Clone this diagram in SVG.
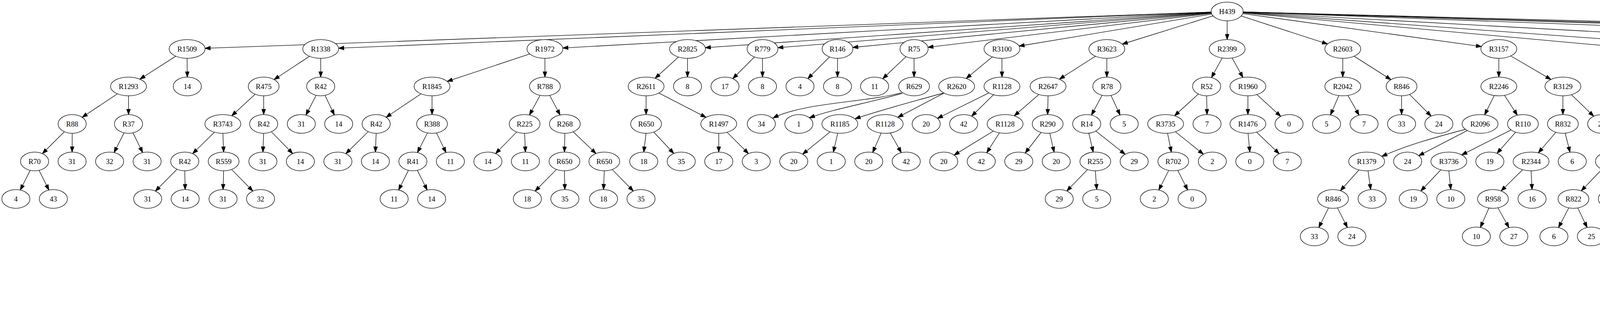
<svg xmlns="http://www.w3.org/2000/svg" width="6919" height="827" viewBox="0 0 6919 827">
<style>
.node ellipse{fill:#ffffff;stroke:#000000;stroke-width:1.33}
.node text{font-family:"Liberation Serif","Times New Roman",serif;font-size:18.67px;text-anchor:middle;fill:#000000}
#edges path{fill:none;stroke:#000000;stroke-width:1.33;marker-end:url(#arr)}
</style>
<defs>
<marker id="arr" markerUnits="userSpaceOnUse" viewBox="0 0 13.33 9.33" refX="13.33" refY="4.67" markerWidth="13.33" markerHeight="9.33" orient="auto" style="overflow:visible">
<path d="M0,0 L13.33,4.67 L0,9.33 z" fill="#000000" stroke="#000000" stroke-width="1.33"/>
</marker>
</defs>
<rect x="0" y="0" width="6919" height="827" fill="#ffffff"/>
<g id="edges">
<path d="M3100.6,30.8L524.9,123.7"/>
<path d="M3100.6,31L866.9,123.4"/>
<path d="M3100.7,31.5L1440.7,122.8"/>
<path d="M3100.8,32.1L1805.6,122.1"/>
<path d="M3100.9,32.6L1991.2,122.1"/>
<path d="M3101,33.2L2183,121.5"/>
<path d="M3101.3,34.1L2375.4,121.1"/>
<path d="M3102.1,35.9L2608.8,118"/>
<path d="M3105.3,40.6L2873,113"/>
<path d="M3141.5,53.3L3141.5,101.3"/>
<path d="M3177.4,40.9L3398.4,112.6"/>
<path d="M3181.4,34.8L3792.5,119.2"/>
<path d="M3182,33L4155.7,121.2"/>
<path d="M3182.2,32.3L4410.4,122"/>
<path d="M3182.3,31.5L4844.9,122.8"/>
<path d="M3182.4,30.8L5676.9,123.6"/>
<path d="M3182.4,30.6L6138.1,123.9"/>
<path d="M3182.5,30.5L6383.4,124"/>
<path d="M3182.5,30.4L6725.8,124.1"/>
<path d="M449.9,143.9L358.1,202.7"/>
<path d="M479,149.3L479.5,197.3"/>
<path d="M300.6,240.2L210.3,300.3"/>
<path d="M329,245.3L329,293.3"/>
<path d="M164.8,337.3L108.6,393.3"/>
<path d="M184.8,341.3L184.6,389.3"/>
<path d="M77.2,436.1L52,486.5"/>
<path d="M100,436.1L125.2,486.5"/>
<path d="M317.6,340.1L292,390.5"/>
<path d="M340.4,340.1L365.2,390.5"/>
<path d="M792.4,144.1L701.8,203.7"/>
<path d="M821,149.3L821,197.3"/>
<path d="M653.2,241.3L593.2,296.4"/>
<path d="M675,245.3L675,293.3"/>
<path d="M549,338.5L493.2,393.4"/>
<path d="M570.6,341.3L572.5,389.3"/>
<path d="M453.2,433.3L397.8,489.3"/>
<path d="M473,437.3L474,485.3"/>
<path d="M572.5,437.3L571,485.3"/>
<path d="M592.8,433.9L647.3,489.2"/>
<path d="M675,341.3L673,389.3"/>
<path d="M694.7,337.4L749.3,393.2"/>
<path d="M809.3,244L783.1,294.6"/>
<path d="M832,244.2L856,294.4"/>
<path d="M1356.2,138.2L1144.8,208.4"/>
<path d="M1395,149.3L1395,197.3"/>
<path d="M1077.8,240.3L988.4,300.3"/>
<path d="M1106,245.3L1106,293.3"/>
<path d="M942.7,337.1L885.3,393.5"/>
<path d="M963,341.3L961,389.3"/>
<path d="M1094.3,340.2L1068.6,390.6"/>
<path d="M1117.3,340.3L1141.8,390.5"/>
<path d="M1045.6,436.1L1020.4,486.5"/>
<path d="M1068.4,436.1L1093.6,486.5"/>
<path d="M1382.7,244.1L1355.4,294.5"/>
<path d="M1407.1,244.1L1433.9,294.5"/>
<path d="M1322.8,337.9L1268.7,393.2"/>
<path d="M1343,341.3L1345,389.3"/>
<path d="M1446,341.3L1445,389.3"/>
<path d="M1467.3,337.5L1525.7,393.1"/>
<path d="M1424.6,433.9L1369.8,489.3"/>
<path d="M1445,437.3L1446,485.3"/>
<path d="M1547,437.3L1545,485.3"/>
<path d="M1567.2,433.9L1621.3,489.2"/>
<path d="M1737,146.1L1677,200.5"/>
<path d="M1760,149.3L1760,197.3"/>
<path d="M1654,245.3L1654,293.3"/>
<path d="M1686.7,238.2L1807.3,300.4"/>
<path d="M1653.8,341.3L1648.1,389.3"/>
<path d="M1673.6,338.2L1724.9,393"/>
<path d="M1840,341.3L1840,389.3"/>
<path d="M1861.3,338.6L1916,393.3"/>
<path d="M1931.5,145.8L1876,201.3"/>
<path d="M1952,149.3L1952,197.3"/>
<path d="M2123.5,145.8L2068,201.3"/>
<path d="M2144,149.3L2144,197.3"/>
<path d="M2319.3,145L2259.7,201.7"/>
<path d="M2340,149.3L2340,197.3"/>
<path d="M2307.6,237.3C2220,262 2060,262 1979,302"/>
<path d="M2310,239C2230,262 2130,280 2072,301.7"/>
<path d="M2540.5,145.6L2473.5,201"/>
<path d="M2565,149.3L2565,197.3"/>
<path d="M2416,238C2330,262 2260,280 2189,304"/>
<path d="M2416.6,238.3L2298.4,300.3"/>
<path d="M2125.2,337.5L2054.8,394.7"/>
<path d="M2144.5,341.1L2133.4,389.6"/>
<path d="M2255.8,340.7L2234.1,390.3"/>
<path d="M2279,340.3L2307.4,390.8"/>
<path d="M2531.6,237.8L2399.9,303"/>
<path d="M2543.4,242.5L2487.3,297.5"/>
<path d="M2804.4,143.9L2712.1,202.7"/>
<path d="M2833.5,149.3L2833.5,197.3"/>
<path d="M2659.4,241.9L2596.6,296.7"/>
<path d="M2683,245.3L2682,293.3"/>
<path d="M2543.1,335.6L2442.5,397.1"/>
<path d="M2558.5,340.1L2526,391.2"/>
<path d="M2665.2,339L2624.5,392"/>
<path d="M2687.4,341.1L2698.6,389.6"/>
<path d="M2821.4,243.9L2794.1,294.7"/>
<path d="M2844.1,244.2L2867.4,294.4"/>
<path d="M2787.4,341L2798.6,389.5"/>
<path d="M2805.2,335.6L2880.3,395"/>
<path d="M2784.1,434L2731,489.1"/>
<path d="M2804,437.3L2807.6,485.3"/>
<path d="M3128.9,148.4L3101.3,198.8"/>
<path d="M3154.3,148.4L3181.8,198.2"/>
<path d="M3067.8,240.7L3006.8,296.5"/>
<path d="M3089,245.3L3090,293.3"/>
<path d="M2988.9,341.2L2998.7,389.5"/>
<path d="M3009.1,337.4L3080.6,394.8"/>
<path d="M2992,436.2L2966.5,486.5"/>
<path d="M3015.1,436.2L3040.4,486.5"/>
<path d="M3194.6,245.3L3194.6,293.3"/>
<path d="M3217.5,242.1L3278.7,297.9"/>
<path d="M3195,341.3L3199.5,389.3"/>
<path d="M3216.7,338.3L3274.8,393.7"/>
<path d="M3437.5,149.3L3437.5,197.3"/>
<path d="M3466.6,143.9L3560.8,203.9"/>
<path d="M3427.4,244.7L3406,294.2"/>
<path d="M3450.6,244.3L3479.3,294.9"/>
<path d="M3588,245.3L3588,293.3"/>
<path d="M3608.5,241.9L3663.7,297.2"/>
<path d="M3837,149.3L3837,197.3"/>
<path d="M3867.6,143.2L3970.4,203.4"/>
<path d="M3825.4,244.5L3800.6,294.1"/>
<path d="M3851.6,244.1L3884.3,294.9"/>
<path d="M3752,331C3680,350 3600,372 3537.5,400.5"/>
<path d="M3756.4,334.2L3632,398.6"/>
<path d="M3479.1,435L3431.4,488.2"/>
<path d="M3502.1,437.2L3509,485.4"/>
<path d="M3401.1,532.2L3376.1,582.5"/>
<path d="M3424,532.2L3449.3,582.5"/>
<path d="M3868.4,332.7L3742,396.6"/>
<path d="M3880,338.5L3832.3,392.6"/>
<path d="M3688.6,434.8L3637.2,489"/>
<path d="M3709,437.3L3714,485.3"/>
<path d="M4001,245.3L4001,293.3"/>
<path d="M4022.9,242.4L4079.9,297.6"/>
<path d="M3982.9,338.6L3938.2,391.4"/>
<path d="M4006.9,341L4019.1,389.6"/>
<path d="M3898,434.5L3842.8,488.9"/>
<path d="M3919.6,437.3L3922,485.3"/>
<path d="M3811.7,532.5L3789.7,582.3"/>
<path d="M3834.6,532L3862.9,582.8"/>
<path d="M4201,149.3L4201,197.3"/>
<path d="M4223.8,146.1L4284.8,201.9"/>
<path d="M4201,245.3L4201,293.3"/>
<path d="M4223,242.4L4280.5,297.6"/>
<path d="M4183.1,338.7L4138.1,392.4"/>
<path d="M4204.9,341.1L4213.1,389.5"/>
<path d="M4101,433.5L4048,488.6"/>
<path d="M4122.3,437.2L4125.9,485.4"/>
<path d="M4016.1,532.2L3989.8,582.6"/>
<path d="M4039,532.3L4063,582.4"/>
<path d="M4456,149.3L4456,197.3"/>
<path d="M4486.3,143.4L4586.7,203.2"/>
<path d="M4444.1,244.5L4418.6,294.1"/>
<path d="M4469.3,244.3L4498.6,294.9"/>
<path d="M4386.6,338.9L4336.8,392.4"/>
<path d="M4409.2,341.2L4414.4,389.4"/>
<path d="M4297.5,434L4244.4,489.1"/>
<path d="M4317.4,437.3L4321,485.3"/>
<path d="M4617,245.3L4617,293.3"/>
<path d="M4639.8,242.1L4700.8,297.9"/>
<path d="M4595,338.4L4538.1,393"/>
<path d="M4617,341.3L4617,389.3"/>
<path d="M4497.6,434.2L4446.7,488.9"/>
<path d="M4517.7,437.3L4522.3,485.3"/>
<path d="M4890.6,149.3L4890.6,197.3"/>
<path d="M4930.3,137.5L5163.9,209.1"/>
<path d="M4878,244.4L4850.7,294.7"/>
<path d="M4903.4,244.4L4931,294.2"/>
<path d="M4815.8,336L4746.6,393"/>
<path d="M4838.4,341.3L4838.4,389.3"/>
<path d="M4701.7,434.9L4650.8,489"/>
<path d="M4722.2,437.3L4726.8,485.3"/>
<path d="M4838.1,437.3L4832.9,485.3"/>
<path d="M4858.7,434.9L4909.5,489"/>
<path d="M4943.75,341.3L4943.75,389.3"/>
<path d="M4964.9,338.6L5019.4,393.3"/>
<path d="M5203.6,245.3L5203.6,293.3"/>
<path d="M5234,239.3L5335.6,299.3"/>
<path d="M5190,339.5L5159,390.4"/>
<path d="M5216.9,339.5L5247.3,390.4"/>
<path d="M5124.7,434.9L5073.6,489"/>
<path d="M5145,437.3L5150,485.3"/>
<path d="M5260.7,437.3L5255.7,485.3"/>
<path d="M5281.3,434.9L5332.2,489"/>
<path d="M5366,341.3L5366,389.3"/>
<path d="M5387.3,338.6L5442,393.3"/>
<path d="M5722.8,149.3L5722.8,197.3"/>
<path d="M5759.6,139.7L5931.9,206.9"/>
<path d="M5709.9,244.4L5681.9,294.2"/>
<path d="M5735.1,244.4L5761.9,294.7"/>
<path d="M5646.9,338.3L5590.1,392.3"/>
<path d="M5669.2,341.3L5672.6,389.3"/>
<path d="M5556.1,436.5L5530.4,486.6"/>
<path d="M5579.4,436.5L5603.9,486.6"/>
<path d="M5773.7,341.3L5769,389.3"/>
<path d="M5793.2,337.6L5845.5,393"/>
<path d="M5968.75,245.3L5968.75,293.3"/>
<path d="M5992.2,242L6054.3,296.7"/>
<path d="M5968.8,341.3L5970,389.3"/>
<path d="M5991.4,337L6056.8,393.7"/>
<path d="M5947.8,434.3L5891,488.3"/>
<path d="M5970.2,437.3L5973.8,485.3"/>
<path d="M5857.2,532.5L5832.3,582.5"/>
<path d="M5880.4,532.5L5905.6,582.5"/>
<path d="M6079.4,437.3L6076.9,485.3"/>
<path d="M6099.6,434L6153.2,489.2"/>
<path d="M6099.8,338.3L6157.9,393.7"/>
<path d="M6111.4,333.6L6246.6,399.2"/>
<path d="M6184,149.3L6184,197.3"/>
<path d="M6206.6,146.2L6266.9,201.8"/>
<path d="M6184,245.3L6184,293.3"/>
<path d="M6205.1,242.6L6259.2,297.3"/>
<path d="M6429.3,149.3L6429,197.3"/>
<path d="M6457.5,144.3L6545.3,203.5"/>
<path d="M6416.2,244L6387.6,294.8"/>
<path d="M6439.1,244.5L6460.9,294.3"/>
<path d="M6375,341.3L6374,389.3"/>
<path d="M6394.8,337.3L6450.2,393.3"/>
<path d="M6571.7,245.3L6571.7,293.3"/>
<path d="M6592.7,241.6L6650.6,297.5"/>
<path d="M6571.7,341.3L6571.7,389.3"/>
<path d="M6592.7,337.6L6650.6,393.5"/>
<path d="M6551.2,433.8L6495.9,489.3"/>
<path d="M6571.7,437.3L6571.7,485.3"/>
<path d="M6771.7,149.3L6771.7,197.3"/>
<path d="M6794.6,146.1L6855.7,201.9"/>
<path d="M6771.7,245.3L6771.7,293.3"/>
<path d="M6793.5,242.4L6850.6,297.5"/>
<path d="M6771.7,341.3L6771.7,389.3"/>
<path d="M6792.7,337.6L6850.6,393.5"/>
<path d="M6759.6,436.1L6732.9,486.5"/>
<path d="M6783.4,436.2L6809.2,486.6"/>
<path d="M6708.7,532.1L6682,582.5"/>
<path d="M6732.5,532.2L6758.4,582.6"/>
<path d="M6658,628.2L6631.8,678.5"/>
<path d="M6681.7,628.2L6707.8,678.6"/>
<path d="M6608.4,724.3L6583.1,774.5"/>
<path d="M6631.3,724.3L6656.3,774.5"/>
</g>
<g id="n0" class="node"><ellipse cx="3141.5" cy="29.3" rx="41" ry="24"/><text x="3141.5" y="35.6">H439</text></g>
<g id="n1" class="node"><ellipse cx="479" cy="125.3" rx="46" ry="24"/><text x="479" y="131.6">R1509</text></g>
<g id="n2" class="node"><ellipse cx="329" cy="221.3" rx="46" ry="24"/><text x="329" y="227.6">R1293</text></g>
<g id="n3" class="node"><ellipse cx="479.5" cy="221.3" rx="36" ry="24"/><text x="479.5" y="227.6">14</text></g>
<g id="n4" class="node"><ellipse cx="184.8" cy="317.3" rx="36" ry="24"/><text x="184.8" y="323.6">R88</text></g>
<g id="n5" class="node"><ellipse cx="329" cy="317.3" rx="36" ry="24"/><text x="329" y="323.6">R37</text></g>
<g id="n6" class="node"><ellipse cx="88.6" cy="413.3" rx="36" ry="24"/><text x="88.6" y="419.6">R70</text></g>
<g id="n7" class="node"><ellipse cx="184.6" cy="413.3" rx="36" ry="24"/><text x="184.6" y="419.6">31</text></g>
<g id="n8" class="node"><ellipse cx="280.6" cy="413.3" rx="36" ry="24"/><text x="280.6" y="419.6">32</text></g>
<g id="n9" class="node"><ellipse cx="376.6" cy="413.3" rx="36" ry="24"/><text x="376.6" y="419.6">31</text></g>
<g id="n10" class="node"><ellipse cx="40.6" cy="509.3" rx="36" ry="24"/><text x="40.6" y="515.6">4</text></g>
<g id="n11" class="node"><ellipse cx="136.6" cy="509.3" rx="36" ry="24"/><text x="136.6" y="515.6">43</text></g>
<g id="n12" class="node"><ellipse cx="821" cy="125.3" rx="46" ry="24"/><text x="821" y="131.6">R1338</text></g>
<g id="n13" class="node"><ellipse cx="675" cy="221.3" rx="39.5" ry="24"/><text x="675" y="227.6">R475</text></g>
<g id="n14" class="node"><ellipse cx="821" cy="221.3" rx="36" ry="24"/><text x="821" y="227.6">R42</text></g>
<g id="n15" class="node"><ellipse cx="570.5" cy="317.3" rx="46" ry="24"/><text x="570.5" y="323.6">R3743</text></g>
<g id="n16" class="node"><ellipse cx="675" cy="317.3" rx="36" ry="24"/><text x="675" y="323.6">R42</text></g>
<g id="n17" class="node"><ellipse cx="771.4" cy="317.3" rx="36" ry="24"/><text x="771.4" y="323.6">31</text></g>
<g id="n18" class="node"><ellipse cx="867" cy="317.3" rx="36" ry="24"/><text x="867" y="323.6">14</text></g>
<g id="n19" class="node"><ellipse cx="473" cy="413.3" rx="36" ry="24"/><text x="473" y="419.6">R42</text></g>
<g id="n20" class="node"><ellipse cx="572.5" cy="413.3" rx="39.5" ry="24"/><text x="572.5" y="419.6">R559</text></g>
<g id="n21" class="node"><ellipse cx="673" cy="413.3" rx="36" ry="24"/><text x="673" y="419.6">31</text></g>
<g id="n22" class="node"><ellipse cx="769" cy="413.3" rx="36" ry="24"/><text x="769" y="419.6">14</text></g>
<g id="n23" class="node"><ellipse cx="378" cy="509.3" rx="36" ry="24"/><text x="378" y="515.6">31</text></g>
<g id="n24" class="node"><ellipse cx="474" cy="509.3" rx="36" ry="24"/><text x="474" y="515.6">14</text></g>
<g id="n25" class="node"><ellipse cx="571" cy="509.3" rx="36" ry="24"/><text x="571" y="515.6">31</text></g>
<g id="n26" class="node"><ellipse cx="667" cy="509.3" rx="36" ry="24"/><text x="667" y="515.6">32</text></g>
<g id="n27" class="node"><ellipse cx="1395" cy="125.3" rx="46" ry="24"/><text x="1395" y="131.6">R1972</text></g>
<g id="n28" class="node"><ellipse cx="1106" cy="221.3" rx="46" ry="24"/><text x="1106" y="227.6">R1845</text></g>
<g id="n29" class="node"><ellipse cx="1395" cy="221.3" rx="39.5" ry="24"/><text x="1395" y="227.6">R788</text></g>
<g id="n30" class="node"><ellipse cx="963" cy="317.3" rx="36" ry="24"/><text x="963" y="323.6">R42</text></g>
<g id="n31" class="node"><ellipse cx="1106" cy="317.3" rx="39.5" ry="24"/><text x="1106" y="323.6">R388</text></g>
<g id="n32" class="node"><ellipse cx="1343" cy="317.3" rx="39.5" ry="24"/><text x="1343" y="323.6">R225</text></g>
<g id="n33" class="node"><ellipse cx="1446" cy="317.3" rx="39.5" ry="24"/><text x="1446" y="323.6">R268</text></g>
<g id="n34" class="node"><ellipse cx="865" cy="413.3" rx="36" ry="24"/><text x="865" y="419.6">31</text></g>
<g id="n35" class="node"><ellipse cx="961" cy="413.3" rx="36" ry="24"/><text x="961" y="419.6">14</text></g>
<g id="n36" class="node"><ellipse cx="1057" cy="413.3" rx="36" ry="24"/><text x="1057" y="419.6">R41</text></g>
<g id="n37" class="node"><ellipse cx="1153" cy="413.3" rx="36" ry="24"/><text x="1153" y="419.6">11</text></g>
<g id="n38" class="node"><ellipse cx="1249" cy="413.3" rx="36" ry="24"/><text x="1249" y="419.6">14</text></g>
<g id="n39" class="node"><ellipse cx="1345" cy="413.3" rx="36" ry="24"/><text x="1345" y="419.6">11</text></g>
<g id="n40" class="node"><ellipse cx="1445" cy="413.3" rx="39.5" ry="24"/><text x="1445" y="419.6">R650</text></g>
<g id="n41" class="node"><ellipse cx="1547" cy="413.3" rx="39.5" ry="24"/><text x="1547" y="419.6">R650</text></g>
<g id="n42" class="node"><ellipse cx="1009" cy="509.3" rx="36" ry="24"/><text x="1009" y="515.6">11</text></g>
<g id="n43" class="node"><ellipse cx="1105" cy="509.3" rx="36" ry="24"/><text x="1105" y="515.6">14</text></g>
<g id="n44" class="node"><ellipse cx="1350" cy="509.3" rx="36" ry="24"/><text x="1350" y="515.6">18</text></g>
<g id="n45" class="node"><ellipse cx="1446" cy="509.3" rx="36" ry="24"/><text x="1446" y="515.6">35</text></g>
<g id="n46" class="node"><ellipse cx="1545" cy="509.3" rx="36" ry="24"/><text x="1545" y="515.6">18</text></g>
<g id="n47" class="node"><ellipse cx="1641" cy="509.3" rx="36" ry="24"/><text x="1641" y="515.6">35</text></g>
<g id="n48" class="node"><ellipse cx="1760" cy="125.3" rx="46" ry="24"/><text x="1760" y="131.6">R2825</text></g>
<g id="n49" class="node"><ellipse cx="1654" cy="221.3" rx="46" ry="24"/><text x="1654" y="227.6">R2611</text></g>
<g id="n50" class="node"><ellipse cx="1760" cy="221.3" rx="36" ry="24"/><text x="1760" y="227.6">8</text></g>
<g id="n51" class="node"><ellipse cx="1654" cy="317.3" rx="39.5" ry="24"/><text x="1654" y="323.6">R650</text></g>
<g id="n52" class="node"><ellipse cx="1840" cy="317.3" rx="46" ry="24"/><text x="1840" y="323.6">R1497</text></g>
<g id="n53" class="node"><ellipse cx="1648" cy="413.3" rx="36" ry="24"/><text x="1648" y="419.6">18</text></g>
<g id="n54" class="node"><ellipse cx="1744" cy="413.3" rx="36" ry="24"/><text x="1744" y="419.6">35</text></g>
<g id="n55" class="node"><ellipse cx="1840" cy="413.3" rx="36" ry="24"/><text x="1840" y="419.6">17</text></g>
<g id="n56" class="node"><ellipse cx="1936" cy="413.3" rx="36" ry="24"/><text x="1936" y="419.6">3</text></g>
<g id="n57" class="node"><ellipse cx="1952" cy="125.3" rx="39.5" ry="24"/><text x="1952" y="131.6">R779</text></g>
<g id="n58" class="node"><ellipse cx="1856" cy="221.3" rx="36" ry="24"/><text x="1856" y="227.6">17</text></g>
<g id="n59" class="node"><ellipse cx="1952" cy="221.3" rx="36" ry="24"/><text x="1952" y="227.6">8</text></g>
<g id="n60" class="node"><ellipse cx="2144" cy="125.3" rx="39.5" ry="24"/><text x="2144" y="131.6">R146</text></g>
<g id="n61" class="node"><ellipse cx="2048" cy="221.3" rx="36" ry="24"/><text x="2048" y="227.6">4</text></g>
<g id="n62" class="node"><ellipse cx="2144" cy="221.3" rx="36" ry="24"/><text x="2144" y="227.6">8</text></g>
<g id="n63" class="node"><ellipse cx="2340" cy="125.3" rx="36" ry="24"/><text x="2340" y="131.6">R75</text></g>
<g id="n64" class="node"><ellipse cx="2239" cy="221.3" rx="36" ry="24"/><text x="2239" y="227.6">11</text></g>
<g id="n65" class="node"><ellipse cx="2340" cy="221.3" rx="39.5" ry="24"/><text x="2340" y="227.6">R629</text></g>
<g id="n66" class="node"><ellipse cx="1949" cy="317.3" rx="36" ry="24"/><text x="1949" y="323.6">34</text></g>
<g id="n67" class="node"><ellipse cx="2045" cy="317.3" rx="36" ry="24"/><text x="2045" y="323.6">1</text></g>
<g id="n68" class="node"><ellipse cx="2565" cy="125.3" rx="46" ry="24"/><text x="2565" y="131.6">R3100</text></g>
<g id="n69" class="node"><ellipse cx="2449" cy="221.3" rx="46" ry="24"/><text x="2449" y="227.6">R2620</text></g>
<g id="n70" class="node"><ellipse cx="2565" cy="221.3" rx="46" ry="24"/><text x="2565" y="227.6">R1128</text></g>
<g id="n71" class="node"><ellipse cx="2150" cy="317.3" rx="46" ry="24"/><text x="2150" y="323.6">R1185</text></g>
<g id="n72" class="node"><ellipse cx="2266" cy="317.3" rx="46" ry="24"/><text x="2266" y="323.6">R1128</text></g>
<g id="n73" class="node"><ellipse cx="2371" cy="317.3" rx="36" ry="24"/><text x="2371" y="323.6">20</text></g>
<g id="n74" class="node"><ellipse cx="2467" cy="317.3" rx="36" ry="24"/><text x="2467" y="323.6">42</text></g>
<g id="n75" class="node"><ellipse cx="2032" cy="413.3" rx="36" ry="24"/><text x="2032" y="419.6">20</text></g>
<g id="n76" class="node"><ellipse cx="2128" cy="413.3" rx="36" ry="24"/><text x="2128" y="419.6">1</text></g>
<g id="n77" class="node"><ellipse cx="2224" cy="413.3" rx="36" ry="24"/><text x="2224" y="419.6">20</text></g>
<g id="n78" class="node"><ellipse cx="2320" cy="413.3" rx="36" ry="24"/><text x="2320" y="419.6">42</text></g>
<g id="n79" class="node"><ellipse cx="2833.5" cy="125.3" rx="46" ry="24"/><text x="2833.5" y="131.6">R3623</text></g>
<g id="n80" class="node"><ellipse cx="2683" cy="221.3" rx="46" ry="24"/><text x="2683" y="227.6">R2647</text></g>
<g id="n81" class="node"><ellipse cx="2833.5" cy="221.3" rx="36" ry="24"/><text x="2833.5" y="227.6">R78</text></g>
<g id="n82" class="node"><ellipse cx="2573" cy="317.3" rx="46" ry="24"/><text x="2573" y="323.6">R1128</text></g>
<g id="n83" class="node"><ellipse cx="2682" cy="317.3" rx="39.5" ry="24"/><text x="2682" y="323.6">R290</text></g>
<g id="n84" class="node"><ellipse cx="2782" cy="317.3" rx="36" ry="24"/><text x="2782" y="323.6">R14</text></g>
<g id="n85" class="node"><ellipse cx="2878" cy="317.3" rx="36" ry="24"/><text x="2878" y="323.6">5</text></g>
<g id="n86" class="node"><ellipse cx="2416" cy="413.3" rx="36" ry="24"/><text x="2416" y="419.6">20</text></g>
<g id="n87" class="node"><ellipse cx="2512" cy="413.3" rx="36" ry="24"/><text x="2512" y="419.6">42</text></g>
<g id="n88" class="node"><ellipse cx="2608" cy="413.3" rx="36" ry="24"/><text x="2608" y="419.6">29</text></g>
<g id="n89" class="node"><ellipse cx="2704" cy="413.3" rx="36" ry="24"/><text x="2704" y="419.6">20</text></g>
<g id="n90" class="node"><ellipse cx="2804" cy="413.3" rx="39.5" ry="24"/><text x="2804" y="419.6">R255</text></g>
<g id="n91" class="node"><ellipse cx="2903.5" cy="413.3" rx="36" ry="24"/><text x="2903.5" y="419.6">29</text></g>
<g id="n92" class="node"><ellipse cx="2711.6" cy="509.3" rx="36" ry="24"/><text x="2711.6" y="515.6">29</text></g>
<g id="n93" class="node"><ellipse cx="2807.6" cy="509.3" rx="36" ry="24"/><text x="2807.6" y="515.6">5</text></g>
<g id="n94" class="node"><ellipse cx="3141.5" cy="125.3" rx="46" ry="24"/><text x="3141.5" y="131.6">R2399</text></g>
<g id="n95" class="node"><ellipse cx="3089" cy="221.3" rx="36" ry="24"/><text x="3089" y="227.6">R52</text></g>
<g id="n96" class="node"><ellipse cx="3194.6" cy="221.3" rx="46" ry="24"/><text x="3194.6" y="227.6">R1960</text></g>
<g id="n97" class="node"><ellipse cx="2984" cy="317.3" rx="46" ry="24"/><text x="2984" y="323.6">R3735</text></g>
<g id="n98" class="node"><ellipse cx="3090" cy="317.3" rx="36" ry="24"/><text x="3090" y="323.6">7</text></g>
<g id="n99" class="node"><ellipse cx="3194.6" cy="317.3" rx="46" ry="24"/><text x="3194.6" y="323.6">R1476</text></g>
<g id="n100" class="node"><ellipse cx="3300" cy="317.3" rx="36" ry="24"/><text x="3300" y="323.6">0</text></g>
<g id="n101" class="node"><ellipse cx="3003.6" cy="413.3" rx="39.5" ry="24"/><text x="3003.6" y="419.6">R702</text></g>
<g id="n102" class="node"><ellipse cx="3103.6" cy="413.3" rx="36" ry="24"/><text x="3103.6" y="419.6">2</text></g>
<g id="n103" class="node"><ellipse cx="3199.5" cy="413.3" rx="36" ry="24"/><text x="3199.5" y="419.6">0</text></g>
<g id="n104" class="node"><ellipse cx="3295.5" cy="413.3" rx="36" ry="24"/><text x="3295.5" y="419.6">7</text></g>
<g id="n105" class="node"><ellipse cx="2955" cy="509.3" rx="36" ry="24"/><text x="2955" y="515.6">2</text></g>
<g id="n106" class="node"><ellipse cx="3051.8" cy="509.3" rx="36" ry="24"/><text x="3051.8" y="515.6">0</text></g>
<g id="n107" class="node"><ellipse cx="3437.5" cy="125.3" rx="46" ry="24"/><text x="3437.5" y="131.6">R2603</text></g>
<g id="n108" class="node"><ellipse cx="3437.5" cy="221.3" rx="46" ry="24"/><text x="3437.5" y="227.6">R2042</text></g>
<g id="n109" class="node"><ellipse cx="3588" cy="221.3" rx="39.5" ry="24"/><text x="3588" y="227.6">R846</text></g>
<g id="n110" class="node"><ellipse cx="3396" cy="317.3" rx="36" ry="24"/><text x="3396" y="323.6">5</text></g>
<g id="n111" class="node"><ellipse cx="3492" cy="317.3" rx="36" ry="24"/><text x="3492" y="323.6">7</text></g>
<g id="n112" class="node"><ellipse cx="3588" cy="317.3" rx="36" ry="24"/><text x="3588" y="323.6">33</text></g>
<g id="n113" class="node"><ellipse cx="3683.5" cy="317.3" rx="36" ry="24"/><text x="3683.5" y="323.6">24</text></g>
<g id="n114" class="node"><ellipse cx="3837" cy="125.3" rx="46" ry="24"/><text x="3837" y="131.6">R3157</text></g>
<g id="n115" class="node"><ellipse cx="3837" cy="221.3" rx="46" ry="24"/><text x="3837" y="227.6">R2246</text></g>
<g id="n116" class="node"><ellipse cx="4001" cy="221.3" rx="46" ry="24"/><text x="4001" y="227.6">R3129</text></g>
<g id="n117" class="node"><ellipse cx="3789" cy="317.3" rx="46" ry="24"/><text x="3789" y="323.6">R2096</text></g>
<g id="n118" class="node"><ellipse cx="3898.7" cy="317.3" rx="39.5" ry="24"/><text x="3898.7" y="323.6">R110</text></g>
<g id="n119" class="node"><ellipse cx="4001" cy="317.3" rx="39.5" ry="24"/><text x="4001" y="323.6">R832</text></g>
<g id="n120" class="node"><ellipse cx="4100.4" cy="317.3" rx="36" ry="24"/><text x="4100.4" y="323.6">25</text></g>
<g id="n121" class="node"><ellipse cx="3498.6" cy="413.3" rx="46" ry="24"/><text x="3498.6" y="419.6">R1379</text></g>
<g id="n122" class="node"><ellipse cx="3603.6" cy="413.3" rx="36" ry="24"/><text x="3603.6" y="419.6">24</text></g>
<g id="n123" class="node"><ellipse cx="3709" cy="413.3" rx="46" ry="24"/><text x="3709" y="419.6">R3736</text></g>
<g id="n124" class="node"><ellipse cx="3814" cy="413.3" rx="36" ry="24"/><text x="3814" y="419.6">19</text></g>
<g id="n125" class="node"><ellipse cx="3919.6" cy="413.3" rx="46" ry="24"/><text x="3919.6" y="419.6">R2344</text></g>
<g id="n126" class="node"><ellipse cx="4025" cy="413.3" rx="36" ry="24"/><text x="4025" y="419.6">6</text></g>
<g id="n127" class="node"><ellipse cx="3412.5" cy="509.3" rx="39.5" ry="24"/><text x="3412.5" y="515.6">R846</text></g>
<g id="n128" class="node"><ellipse cx="3512.5" cy="509.3" rx="36" ry="24"/><text x="3512.5" y="515.6">33</text></g>
<g id="n129" class="node"><ellipse cx="3618" cy="509.3" rx="36" ry="24"/><text x="3618" y="515.6">19</text></g>
<g id="n130" class="node"><ellipse cx="3714" cy="509.3" rx="36" ry="24"/><text x="3714" y="515.6">10</text></g>
<g id="n131" class="node"><ellipse cx="3822" cy="509.3" rx="39.5" ry="24"/><text x="3822" y="515.6">R958</text></g>
<g id="n132" class="node"><ellipse cx="3922" cy="509.3" rx="36" ry="24"/><text x="3922" y="515.6">16</text></g>
<g id="n133" class="node"><ellipse cx="3364.7" cy="605.3" rx="36" ry="24"/><text x="3364.7" y="611.6">33</text></g>
<g id="n134" class="node"><ellipse cx="3460.7" cy="605.3" rx="36" ry="24"/><text x="3460.7" y="611.6">24</text></g>
<g id="n135" class="node"><ellipse cx="3779.5" cy="605.3" rx="36" ry="24"/><text x="3779.5" y="611.6">10</text></g>
<g id="n136" class="node"><ellipse cx="3875.4" cy="605.3" rx="36" ry="24"/><text x="3875.4" y="611.6">27</text></g>
<g id="n137" class="node"><ellipse cx="4201" cy="125.3" rx="46" ry="24"/><text x="4201" y="131.6">R2331</text></g>
<g id="n138" class="node"><ellipse cx="4201" cy="221.3" rx="46" ry="24"/><text x="4201" y="227.6">R1018</text></g>
<g id="n139" class="node"><ellipse cx="4306" cy="221.3" rx="36" ry="24"/><text x="4306" y="227.6">25</text></g>
<g id="n140" class="node"><ellipse cx="4201" cy="317.3" rx="39.5" ry="24"/><text x="4201" y="323.6">R960</text></g>
<g id="n141" class="node"><ellipse cx="4301" cy="317.3" rx="36" ry="24"/><text x="4301" y="323.6">6</text></g>
<g id="n142" class="node"><ellipse cx="4120.5" cy="413.3" rx="36" ry="24"/><text x="4120.5" y="419.6">R83</text></g>
<g id="n143" class="node"><ellipse cx="4217" cy="413.3" rx="36" ry="24"/><text x="4217" y="419.6">25</text></g>
<g id="n144" class="node"><ellipse cx="4028" cy="509.3" rx="39.5" ry="24"/><text x="4028" y="515.6">R822</text></g>
<g id="n145" class="node"><ellipse cx="4127.7" cy="509.3" rx="36" ry="24"/><text x="4127.7" y="515.6">6</text></g>
<g id="n146" class="node"><ellipse cx="3978" cy="605.3" rx="36" ry="24"/><text x="3978" y="611.6">6</text></g>
<g id="n147" class="node"><ellipse cx="4074" cy="605.3" rx="36" ry="24"/><text x="4074" y="611.6">25</text></g>
<g id="n148" class="node"><ellipse cx="4456" cy="125.3" rx="46" ry="24"/><text x="4456" y="131.6">R3573</text></g>
<g id="n149" class="node"><ellipse cx="4456" cy="221.3" rx="46" ry="24"/><text x="4456" y="227.6">R3477</text></g>
<g id="n150" class="node"><ellipse cx="4617" cy="221.3" rx="46" ry="24"/><text x="4617" y="227.6">R3477</text></g>
<g id="n151" class="node"><ellipse cx="4406.7" cy="317.3" rx="46" ry="24"/><text x="4406.7" y="323.6">R2607</text></g>
<g id="n152" class="node"><ellipse cx="4511.6" cy="317.3" rx="36" ry="24"/><text x="4511.6" y="323.6">26</text></g>
<g id="n153" class="node"><ellipse cx="4617" cy="317.3" rx="46" ry="24"/><text x="4617" y="323.6">R2607</text></g>
<g id="n154" class="node"><ellipse cx="4722" cy="317.3" rx="36" ry="24"/><text x="4722" y="323.6">26</text></g>
<g id="n155" class="node"><ellipse cx="4317.4" cy="413.3" rx="39.5" ry="24"/><text x="4317.4" y="419.6">R505</text></g>
<g id="n156" class="node"><ellipse cx="4417" cy="413.3" rx="36" ry="24"/><text x="4417" y="419.6">38</text></g>
<g id="n157" class="node"><ellipse cx="4517" cy="413.3" rx="39.5" ry="24"/><text x="4517" y="419.6">R505</text></g>
<g id="n158" class="node"><ellipse cx="4617" cy="413.3" rx="36" ry="24"/><text x="4617" y="419.6">38</text></g>
<g id="n159" class="node"><ellipse cx="4225" cy="509.3" rx="36" ry="24"/><text x="4225" y="515.6">38</text></g>
<g id="n160" class="node"><ellipse cx="4321" cy="509.3" rx="36" ry="24"/><text x="4321" y="515.6">26</text></g>
<g id="n161" class="node"><ellipse cx="4427.7" cy="509.3" rx="36" ry="24"/><text x="4427.7" y="515.6">38</text></g>
<g id="n162" class="node"><ellipse cx="4523" cy="509.3" rx="36" ry="24"/><text x="4523" y="515.6">26</text></g>
<g id="n163" class="node"><ellipse cx="4890.6" cy="125.3" rx="46" ry="24"/><text x="4890.6" y="131.6">R3592</text></g>
<g id="n164" class="node"><ellipse cx="4890.6" cy="221.3" rx="46" ry="24"/><text x="4890.6" y="227.6">R2541</text></g>
<g id="n165" class="node"><ellipse cx="5203.6" cy="221.3" rx="46" ry="24"/><text x="5203.6" y="227.6">R2541</text></g>
<g id="n166" class="node"><ellipse cx="4838.4" cy="317.3" rx="36" ry="24"/><text x="4838.4" y="323.6">R99</text></g>
<g id="n167" class="node"><ellipse cx="4943.75" cy="317.3" rx="46" ry="24"/><text x="4943.75" y="323.6">R2774</text></g>
<g id="n168" class="node"><ellipse cx="5203.6" cy="317.3" rx="36" ry="24"/><text x="5203.6" y="323.6">R99</text></g>
<g id="n169" class="node"><ellipse cx="5366" cy="317.3" rx="46" ry="24"/><text x="5366" y="323.6">R2774</text></g>
<g id="n170" class="node"><ellipse cx="4722" cy="413.3" rx="46" ry="24"/><text x="4722" y="419.6">R2774</text></g>
<g id="n171" class="node"><ellipse cx="4838.4" cy="413.3" rx="46" ry="24"/><text x="4838.4" y="419.6">R2774</text></g>
<g id="n172" class="node"><ellipse cx="4943.75" cy="413.3" rx="36" ry="24"/><text x="4943.75" y="419.6">9</text></g>
<g id="n173" class="node"><ellipse cx="5039.3" cy="413.3" rx="36" ry="24"/><text x="5039.3" y="419.6">36</text></g>
<g id="n174" class="node"><ellipse cx="5145" cy="413.3" rx="46" ry="24"/><text x="5145" y="419.6">R2774</text></g>
<g id="n175" class="node"><ellipse cx="5261" cy="413.3" rx="46" ry="24"/><text x="5261" y="419.6">R2774</text></g>
<g id="n176" class="node"><ellipse cx="5366" cy="413.3" rx="36" ry="24"/><text x="5366" y="419.6">9</text></g>
<g id="n177" class="node"><ellipse cx="5462" cy="413.3" rx="36" ry="24"/><text x="5462" y="419.6">36</text></g>
<g id="n178" class="node"><ellipse cx="4631.7" cy="509.3" rx="36" ry="24"/><text x="4631.7" y="515.6">9</text></g>
<g id="n179" class="node"><ellipse cx="4727" cy="509.3" rx="36" ry="24"/><text x="4727" y="515.6">36</text></g>
<g id="n180" class="node"><ellipse cx="4832.6" cy="509.3" rx="36" ry="24"/><text x="4832.6" y="515.6">9</text></g>
<g id="n181" class="node"><ellipse cx="4928.6" cy="509.3" rx="36" ry="24"/><text x="4928.6" y="515.6">36</text></g>
<g id="n182" class="node"><ellipse cx="5054.5" cy="509.3" rx="36" ry="24"/><text x="5054.5" y="515.6">9</text></g>
<g id="n183" class="node"><ellipse cx="5150" cy="509.3" rx="36" ry="24"/><text x="5150" y="515.6">36</text></g>
<g id="n184" class="node"><ellipse cx="5255.4" cy="509.3" rx="36" ry="24"/><text x="5255.4" y="515.6">9</text></g>
<g id="n185" class="node"><ellipse cx="5351.3" cy="509.3" rx="36" ry="24"/><text x="5351.3" y="515.6">36</text></g>
<g id="n186" class="node"><ellipse cx="5722.8" cy="125.3" rx="46" ry="24"/><text x="5722.8" y="131.6">R2991</text></g>
<g id="n187" class="node"><ellipse cx="5722.8" cy="221.3" rx="46" ry="24"/><text x="5722.8" y="227.6">R1975</text></g>
<g id="n188" class="node"><ellipse cx="5968.75" cy="221.3" rx="46" ry="24"/><text x="5968.75" y="227.6">R1517</text></g>
<g id="n189" class="node"><ellipse cx="5669" cy="317.3" rx="46" ry="24"/><text x="5669" y="323.6">R1587</text></g>
<g id="n190" class="node"><ellipse cx="5774" cy="317.3" rx="36" ry="24"/><text x="5774" y="323.6">R63</text></g>
<g id="n191" class="node"><ellipse cx="5968.75" cy="317.3" rx="39.5" ry="24"/><text x="5968.75" y="323.6">R755</text></g>
<g id="n192" class="node"><ellipse cx="6077.7" cy="317.3" rx="46" ry="24"/><text x="6077.7" y="323.6">R1121</text></g>
<g id="n193" class="node"><ellipse cx="5568" cy="413.3" rx="46" ry="24"/><text x="5568" y="419.6">R2123</text></g>
<g id="n194" class="node"><ellipse cx="5672.8" cy="413.3" rx="36" ry="24"/><text x="5672.8" y="419.6">15</text></g>
<g id="n195" class="node"><ellipse cx="5768.75" cy="413.3" rx="36" ry="24"/><text x="5768.75" y="419.6">36</text></g>
<g id="n196" class="node"><ellipse cx="5864.7" cy="413.3" rx="36" ry="24"/><text x="5864.7" y="419.6">15</text></g>
<g id="n197" class="node"><ellipse cx="5970" cy="413.3" rx="46" ry="24"/><text x="5970" y="419.6">R2686</text></g>
<g id="n198" class="node"><ellipse cx="6079.5" cy="413.3" rx="39.5" ry="24"/><text x="6079.5" y="419.6">R417</text></g>
<g id="n199" class="node"><ellipse cx="6178.6" cy="413.3" rx="36" ry="24"/><text x="6178.6" y="419.6">41</text></g>
<g id="n200" class="node"><ellipse cx="6275.7" cy="413.3" rx="36" ry="24"/><text x="6275.7" y="419.6">40</text></g>
<g id="n201" class="node"><ellipse cx="5518.75" cy="509.3" rx="36" ry="24"/><text x="5518.75" y="515.6">15</text></g>
<g id="n202" class="node"><ellipse cx="5615" cy="509.3" rx="36" ry="24"/><text x="5615" y="515.6">36</text></g>
<g id="n203" class="node"><ellipse cx="5868.75" cy="509.3" rx="46" ry="24"/><text x="5868.75" y="515.6">R1540</text></g>
<g id="n204" class="node"><ellipse cx="5974" cy="509.3" rx="36" ry="24"/><text x="5974" y="515.6">37</text></g>
<g id="n205" class="node"><ellipse cx="6076.8" cy="509.3" rx="36" ry="24"/><text x="6076.8" y="515.6">41</text></g>
<g id="n206" class="node"><ellipse cx="6172.8" cy="509.3" rx="36" ry="24"/><text x="6172.8" y="515.6">37</text></g>
<g id="n207" class="node"><ellipse cx="5821" cy="605.3" rx="36" ry="24"/><text x="5821" y="611.6">37</text></g>
<g id="n208" class="node"><ellipse cx="5917" cy="605.3" rx="36" ry="24"/><text x="5917" y="611.6">41</text></g>
<g id="n209" class="node"><ellipse cx="6184" cy="125.3" rx="46" ry="24"/><text x="6184" y="131.6">R3344</text></g>
<g id="n210" class="node"><ellipse cx="6184" cy="221.3" rx="46" ry="24"/><text x="6184" y="227.6">R2055</text></g>
<g id="n211" class="node"><ellipse cx="6288" cy="221.3" rx="36" ry="24"/><text x="6288" y="227.6">30</text></g>
<g id="n212" class="node"><ellipse cx="6184" cy="317.3" rx="36" ry="24"/><text x="6184" y="323.6">13</text></g>
<g id="n213" class="node"><ellipse cx="6279" cy="317.3" rx="36" ry="24"/><text x="6279" y="323.6">21</text></g>
<g id="n214" class="node"><ellipse cx="6429.3" cy="125.3" rx="46" ry="24"/><text x="6429.3" y="131.6">R3201</text></g>
<g id="n215" class="node"><ellipse cx="6429" cy="221.3" rx="39.5" ry="24"/><text x="6429" y="227.6">R265</text></g>
<g id="n216" class="node"><ellipse cx="6571.7" cy="221.3" rx="39.5" ry="24"/><text x="6571.7" y="227.6">R429</text></g>
<g id="n217" class="node"><ellipse cx="6375" cy="317.3" rx="36" ry="24"/><text x="6375" y="323.6">R25</text></g>
<g id="n218" class="node"><ellipse cx="6471" cy="317.3" rx="36" ry="24"/><text x="6471" y="323.6">39</text></g>
<g id="n219" class="node"><ellipse cx="6571.7" cy="317.3" rx="39.5" ry="24"/><text x="6571.7" y="323.6">R222</text></g>
<g id="n220" class="node"><ellipse cx="6671" cy="317.3" rx="36" ry="24"/><text x="6671" y="323.6">39</text></g>
<g id="n221" class="node"><ellipse cx="6374" cy="413.3" rx="36" ry="24"/><text x="6374" y="419.6">39</text></g>
<g id="n222" class="node"><ellipse cx="6470" cy="413.3" rx="36" ry="24"/><text x="6470" y="419.6">30</text></g>
<g id="n223" class="node"><ellipse cx="6571.7" cy="413.3" rx="39.5" ry="24"/><text x="6571.7" y="419.6">R139</text></g>
<g id="n224" class="node"><ellipse cx="6671" cy="413.3" rx="36" ry="24"/><text x="6671" y="419.6">23</text></g>
<g id="n225" class="node"><ellipse cx="6476" cy="509.3" rx="36" ry="24"/><text x="6476" y="515.6">23</text></g>
<g id="n226" class="node"><ellipse cx="6571.7" cy="509.3" rx="36" ry="24"/><text x="6571.7" y="515.6">39</text></g>
<g id="n227" class="node"><ellipse cx="6771.7" cy="125.3" rx="46" ry="24"/><text x="6771.7" y="131.6">R2532</text></g>
<g id="n228" class="node"><ellipse cx="6771.7" cy="221.3" rx="46" ry="24"/><text x="6771.7" y="227.6">R2117</text></g>
<g id="n229" class="node"><ellipse cx="6877" cy="221.3" rx="36" ry="24"/><text x="6877" y="227.6">39</text></g>
<g id="n230" class="node"><ellipse cx="6771.7" cy="317.3" rx="39.5" ry="24"/><text x="6771.7" y="323.6">R786</text></g>
<g id="n231" class="node"><ellipse cx="6871" cy="317.3" rx="36" ry="24"/><text x="6871" y="323.6">23</text></g>
<g id="n232" class="node"><ellipse cx="6771.7" cy="413.3" rx="39.5" ry="24"/><text x="6771.7" y="419.6">R570</text></g>
<g id="n233" class="node"><ellipse cx="6871" cy="413.3" rx="36" ry="24"/><text x="6871" y="419.6">39</text></g>
<g id="n234" class="node"><ellipse cx="6720.8" cy="509.3" rx="39.5" ry="24"/><text x="6720.8" y="515.6">R429</text></g>
<g id="n235" class="node"><ellipse cx="6820.8" cy="509.3" rx="36" ry="24"/><text x="6820.8" y="515.6">23</text></g>
<g id="n236" class="node"><ellipse cx="6669.9" cy="605.3" rx="39.5" ry="24"/><text x="6669.9" y="611.6">R222</text></g>
<g id="n237" class="node"><ellipse cx="6770" cy="605.3" rx="36" ry="24"/><text x="6770" y="611.6">39</text></g>
<g id="n238" class="node"><ellipse cx="6619.9" cy="701.3" rx="39.5" ry="24"/><text x="6619.9" y="707.6">R139</text></g>
<g id="n239" class="node"><ellipse cx="6719.5" cy="701.3" rx="36" ry="24"/><text x="6719.5" y="707.6">23</text></g>
<g id="n240" class="node"><ellipse cx="6571.7" cy="797.3" rx="36" ry="24"/><text x="6571.7" y="803.6">23</text></g>
<g id="n241" class="node"><ellipse cx="6667.7" cy="797.3" rx="36" ry="24"/><text x="6667.7" y="803.6">39</text></g>
</svg>
